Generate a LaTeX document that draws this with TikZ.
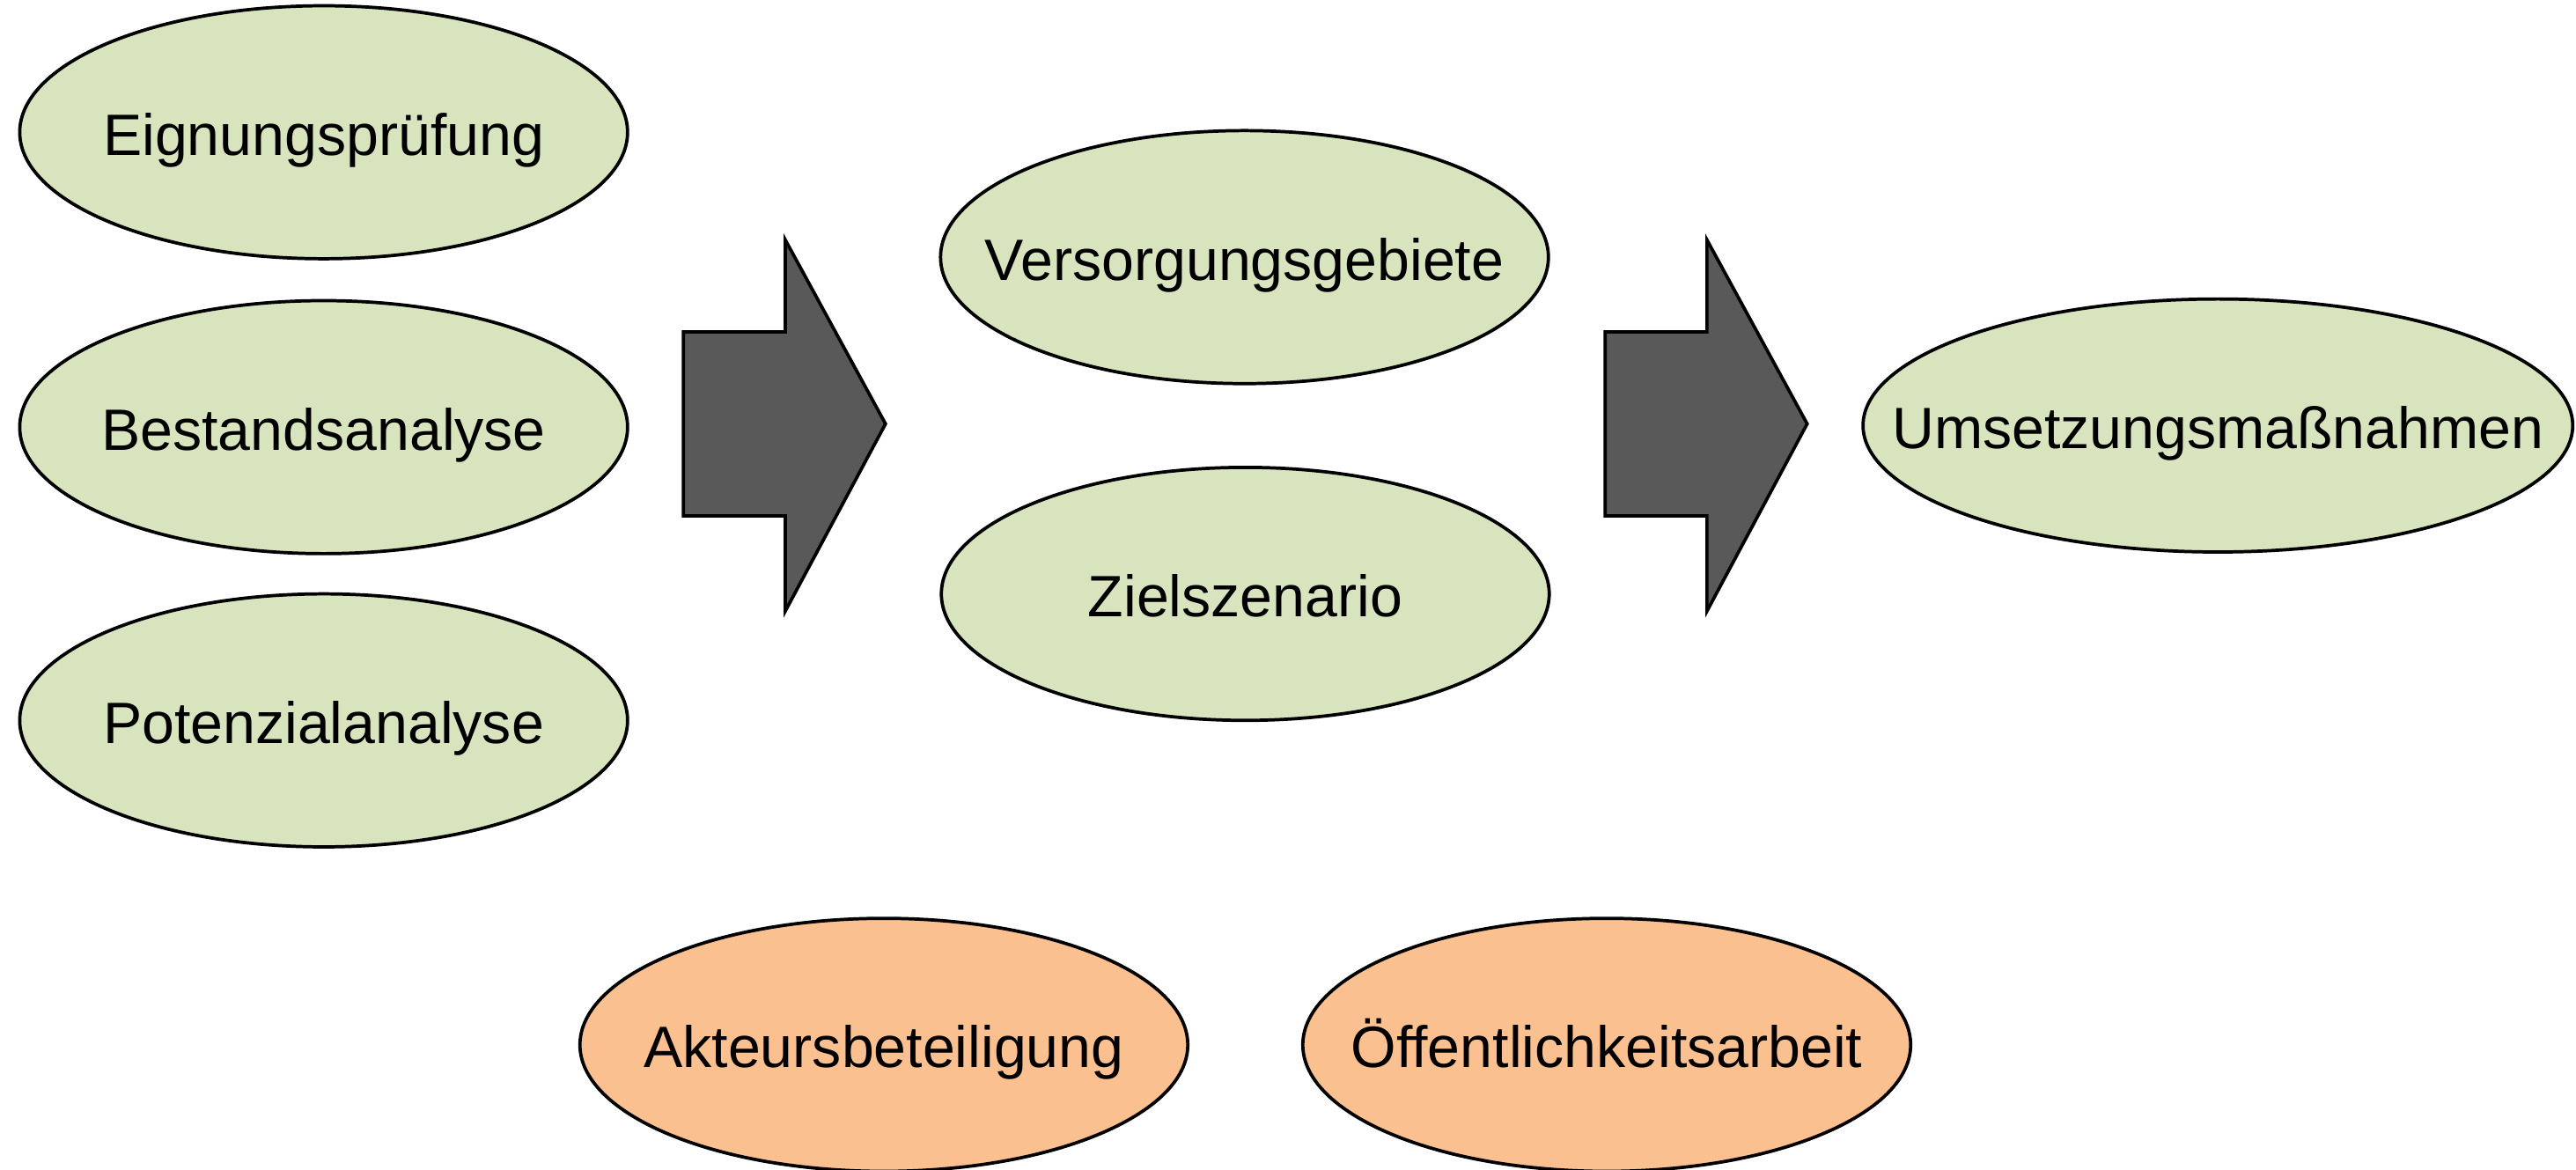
\documentclass[tikz,border=0pt]{standalone}
\usepackage{fontspec}
\setmainfont{Liberation Sans}
\usetikzlibrary{shapes.geometric}
\definecolor{stepgreen}{HTML}{D7E4BD}
\definecolor{steporange}{HTML}{FAC090}
\definecolor{arrowgray}{HTML}{595959}
% label of fixed-size ellipse: no width, no height
\newcommand{\ptext}[1]{\smash{\lower14pt\hbox to 0pt{\hss#1\hss}}}
\tikzset{
  phase/.style={ellipse,draw=black,line width=2pt,fill=stepgreen,
    minimum width=370pt,minimum height=154pt,inner sep=0pt,
    font=\fontsize{35.5}{42}\selectfont},
  support/.style={phase,fill=steporange},
  bigarrow/.style={draw=black,line width=2pt,fill=arrowgray,line join=miter}
}
\begin{document}
\begin{tikzpicture}[x=1pt,y=-1pt]
\useasboundingbox (0,0) rectangle (1568,712);

\node[phase] (eignung) at (197,80.5) {\ptext{Eignungsprüfung}};
\node[phase] (bestand) at (197,260) {\ptext{Bestandsanalyse}};
\node[phase] (potenzial) at (197,438.5) {\ptext{Potenzialanalyse}};

\node[phase] (versorgung) at (757.5,156.5) {\ptext{Versorgungsgebiete}};
\node[phase] (ziel) at (758,361.5) {\ptext{Zielszenario}};

\node[phase,minimum width=432pt] (umsetzung) at (1350,259) {\ptext{Umsetzungsmaßnahmen}};

\node[support] (akteure) at (538,636) {\ptext{Akteursbeteiligung}};
\node[support] (oeffentlich) at (978,636) {\ptext{Öffentlichkeitsarbeit}};

% block arrows between the phases
\foreach \dx in {0,561}
  \draw[bigarrow,xshift=\dx] (416,202) -- (478,202) -- (478,146) -- (539,258)
    -- (478,372) -- (478,314) -- (416,314) -- cycle;
\end{tikzpicture}
\end{document}
